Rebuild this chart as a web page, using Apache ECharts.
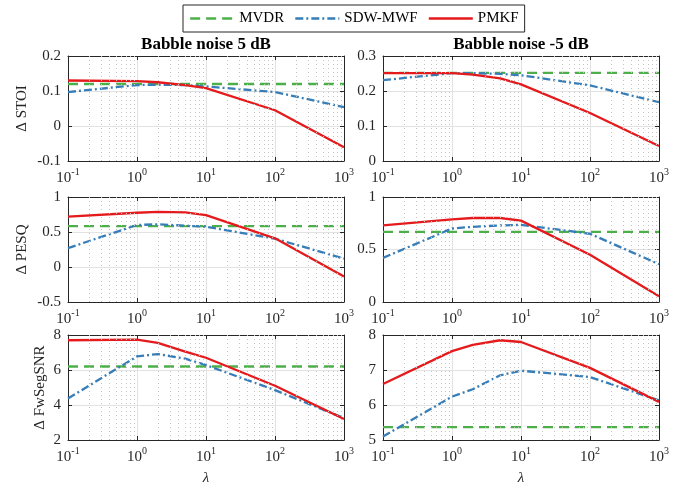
<!DOCTYPE html>
<html><head><meta charset="utf-8">
<script src="https://cdn.jsdelivr.net/npm/echarts@6/dist/echarts.min.js"></script>
<style>html,body{margin:0;padding:0;background:#fff}#c{width:691px;height:492px}</style>
</head><body><div id="c"></div>
<script>
// ---------- data ----------
const lambda = [0.1, 1, 2, 5, 10, 100, 1000];
const minorGridX = [0.2,0.3,0.4,0.5,0.6,0.7,0.8,0.9,2,3,4,5,6,7,8,9,20,30,40,50,60,70,80,90,200,300,400,500,600,700,800,900];
const seriesNames = ['MVDR', 'SDW-MWF', 'PMKF'];
const columnTitles = ['Babble noise 5 dB', 'Babble noise -5 dB'];
const rowNames = ['\u0394 STOI', '\u0394 PESQ', '\u0394 FwSegSNR'];

const stoi5_MVDR  = [0.12, 0.12, 0.12, 0.12, 0.12, 0.12, 0.12];
const stoi5_SDW   = [0.097, 0.117, 0.118, 0.117, 0.113, 0.097, 0.054];
const stoi5_PMKF  = [0.13, 0.128, 0.125, 0.117, 0.108, 0.045, -0.061];

const stoiM5_MVDR = [0.252, 0.252, 0.252, 0.252, 0.252, 0.252, 0.252];
const stoiM5_SDW  = [0.231, 0.251, 0.251, 0.249, 0.245, 0.216, 0.168];
const stoiM5_PMKF = [0.251, 0.251, 0.247, 0.236, 0.219, 0.137, 0.043];

const pesq5_MVDR  = [0.585, 0.585, 0.585, 0.585, 0.585, 0.585, 0.585];
const pesq5_SDW   = [0.27, 0.6, 0.61, 0.59, 0.575, 0.405, 0.12];
const pesq5_PMKF  = [0.72, 0.775, 0.787, 0.78, 0.74, 0.41, -0.135];

const pesqM5_MVDR = [0.667, 0.667, 0.667, 0.667, 0.667, 0.667, 0.667];
const pesqM5_SDW  = [0.42, 0.7, 0.716, 0.729, 0.735, 0.65, 0.36];
const pesqM5_PMKF = [0.73, 0.787, 0.8, 0.8, 0.775, 0.45, 0.055];

const fw5_MVDR    = [6.2, 6.2, 6.2, 6.2, 6.2, 6.2, 6.2];
const fw5_SDW     = [4.37, 6.78, 6.91, 6.65, 6.28, 4.85, 3.25];
const fw5_PMKF    = [7.7, 7.73, 7.55, 7.05, 6.7, 5.1, 3.2];

const fwM5_MVDR   = [5.37, 5.37, 5.37, 5.37, 5.37, 5.37, 5.37];
const fwM5_SDW    = [5.1, 6.24, 6.45, 6.85, 6.98, 6.8, 6.13];
const fwM5_PMKF   = [6.6, 7.54, 7.72, 7.85, 7.8, 7.06, 6.09];

const yRanges = [[-0.1, 0.2, 0.1], [0, 0.3, 0.1], [-0.5, 1, 0.5], [0, 1, 0.5], [2, 8, 2], [5, 8, 1]];
const panelData = [
  [stoi5_MVDR, stoi5_SDW, stoi5_PMKF],
  [stoiM5_MVDR, stoiM5_SDW, stoiM5_PMKF],
  [pesq5_MVDR, pesq5_SDW, pesq5_PMKF],
  [pesqM5_MVDR, pesqM5_SDW, pesqM5_PMKF],
  [fw5_MVDR, fw5_SDW, fw5_PMKF],
  [fwM5_MVDR, fwM5_SDW, fwM5_PMKF]
];

// ---------- style / layout ----------
const FONT = '"Liberation Serif", "Times New Roman", serif';
const TXT = '#262626';
const colors = ['#4daf4a', '#377eb8', '#e41a1c'];
const dashes = [[10, 6], [8, 3, 2, 3], 'solid'];
const colLeft = [68, 383];
const rowTop = [56, 197, 335];
const gridW = 276, gridH = 105;
const yNameGap = [38, 38, 20];

const grids = [], xAxes = [], yAxes = [], series = [];
for (let r = 0; r < 3; r++) {
  for (let c = 0; c < 2; c++) {
    const p = r * 2 + c;
    grids.push({left: colLeft[c], top: rowTop[r], width: gridW, height: gridH, containLabel: false});
    const xBase = {
      type: 'log', logBase: 10, min: 0.1, max: 1000, gridIndex: p,
      axisLine: {show: true, onZero: false, lineStyle: {color: TXT, width: 1}},
      axisTick: {show: true, inside: true, length: 4, lineStyle: {color: TXT}},
    };
    xAxes.push(Object.assign({}, xBase, {
      position: 'bottom',
      splitLine: {show: true, lineStyle: {color: '#e2e2e2', width: 1}},
      axisLabel: {
        margin: 6,
        formatter: v => '{b|10}{s|' + Math.round(Math.log10(v)) + '}',
        rich: {
          b: {fontFamily: FONT, fontSize: 15, color: TXT, verticalAlign: 'bottom', lineHeight: 19},
          s: {fontFamily: FONT, fontSize: 10, color: TXT, verticalAlign: 'top', lineHeight: 13}
        }
      },
      name: r === 2 ? '\u03bb' : '',
      nameLocation: 'middle', nameGap: 31,
      nameTextStyle: {fontFamily: FONT, fontSize: 15, fontStyle: 'italic', color: TXT}
    }));
    xAxes.push(Object.assign({}, xBase, {
      position: 'top', axisLabel: {show: false}, splitLine: {show: false}
    }));
    const yr = yRanges[p];
    const yBase = {
      type: 'value', min: yr[0], max: yr[1], interval: yr[2], gridIndex: p,
      axisLine: {show: true, onZero: false, lineStyle: {color: TXT, width: 1}},
      axisTick: {show: true, inside: true, length: 4, lineStyle: {color: TXT}}
    };
    yAxes.push(Object.assign({}, yBase, {
      position: 'left',
      splitLine: {show: true, lineStyle: {color: '#e2e2e2', width: 1}},
      axisLabel: {margin: 7, fontFamily: FONT, fontSize: 15, color: TXT},
      name: c === 0 ? rowNames[r] : '',
      nameLocation: 'middle', nameGap: yNameGap[r],
      nameTextStyle: {fontFamily: FONT, fontSize: 15, color: TXT}
    }));
    yAxes.push(Object.assign({}, yBase, {
      position: 'right', axisLabel: {show: false}, splitLine: {show: false}
    }));
    // minor dotted grid lines (placed via the log scale of this panel)
    series.push({
      type: 'line', name: 'grid', xAxisIndex: 2 * p, yAxisIndex: 2 * p, data: [], z: 1, silent: true,
      markLine: {
        silent: true, symbol: ['none', 'none'], animation: false, label: {show: false},
        lineStyle: {color: '#c4c4c4', width: 1, type: [1, 3]},
        data: minorGridX.map(v => ({xAxis: v}))
      }
    });
    for (let s = 0; s < 3; s++) {
      series.push({
        type: 'line', name: seriesNames[s], xAxisIndex: 2 * p, yAxisIndex: 2 * p,
        data: lambda.map((l, j) => [l, panelData[p][s][j]]),
        symbol: 'none', showSymbol: false, z: 3, animation: false,
        lineStyle: {color: colors[s], width: 2.3, type: dashes[s], cap: 'butt'},
        itemStyle: {color: colors[s]}
      });
    }
  }
}

const titles = columnTitles.map((t, c) => ({
  text: t, left: colLeft[c] + gridW / 2, top: 36, textAlign: 'center', padding: 0,
  textStyle: {fontFamily: FONT, fontSize: 17, fontWeight: 'bold', color: '#000'}
}));

const chart = echarts.init(document.getElementById('c'), null, {renderer: 'canvas'});
chart.setOption({
  backgroundColor: '#fff',
  animation: false,
  title: titles,
  legend: {
    data: seriesNames.map((n, s) => ({
      name: n,
      itemStyle: {color: 'rgba(0,0,0,0)', borderColor: 'rgba(0,0,0,0)', borderWidth: 0, opacity: 0},
      lineStyle: {color: colors[s], width: 2.3, type: dashes[s], cap: 'butt', opacity: 1}
    })),
    left: 183, top: 5, padding: [6, 6, 6, 6],
    itemWidth: 44, itemHeight: 14, itemGap: 10,
    borderColor: TXT, borderWidth: 1, backgroundColor: '#fff',
    textStyle: {fontFamily: FONT, fontSize: 15, color: '#000'}
  },
  grid: grids, xAxis: xAxes, yAxis: yAxes, series: series
});
</script></body></html>
